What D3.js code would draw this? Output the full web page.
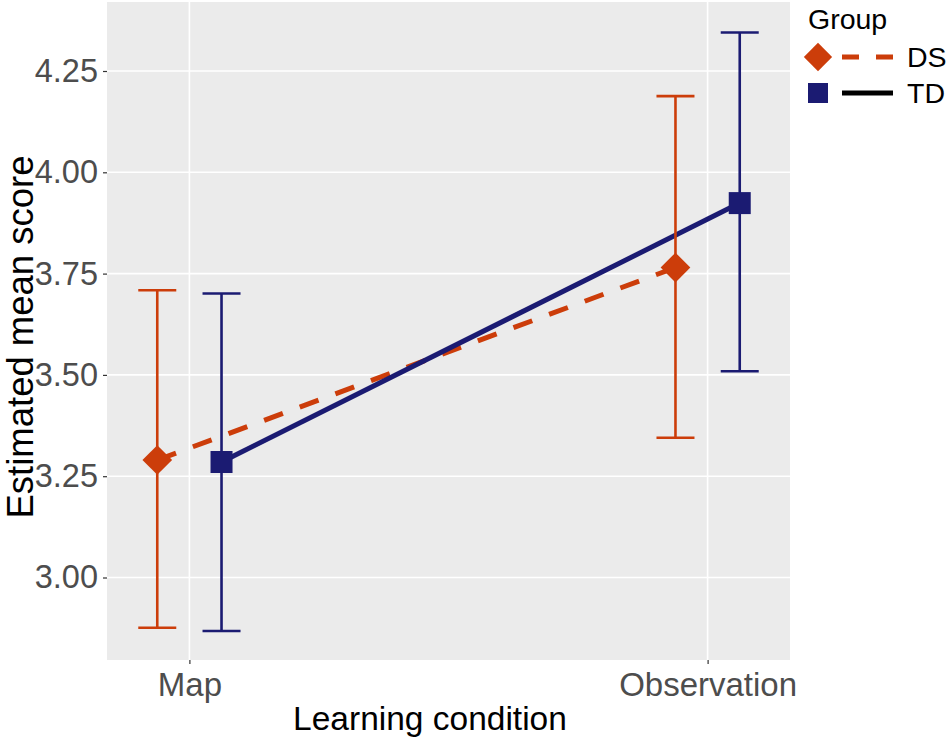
<!DOCTYPE html>
<html>
<head>
<meta charset="utf-8">
<script src="https://cdn.jsdelivr.net/npm/d3@7/dist/d3.min.js"></script>
<style>
  html, body { margin: 0; padding: 0; background: #ffffff; }
  svg { display: block; font-family: "Liberation Sans", Arial, sans-serif; }
</style>
</head>
<body>
<svg id="chart" width="950" height="740"></svg>
<script>
// ---- data ----
const categories = ["Map", "Observation"];
const groups = ["DS", "TD"];
const dsMean  = [3.290, 3.765];
const dsLower = [2.876, 3.345];
const dsUpper = [3.709, 4.188];
const tdMean  = [3.285, 3.924];
const tdLower = [2.868, 3.509];
const tdUpper = [3.701, 4.345];
const yTicks = [3.00, 3.25, 3.50, 3.75, 4.00, 4.25];
const groupColors = ["#CC3D0A", "#1B1B72"];
const legendLineColors = ["#CC3D0A", "#000000"];

// ---- layout ----
const svg = d3.select("#chart");
const panel = { left: 107, right: 790, top: 2, bottom: 660 };

const x = d3.scalePoint().domain(categories).range([panel.left, panel.right]).padding(0.159);
const y = d3.scaleLinear().domain([2.7964, 4.4203]).range([panel.bottom, panel.top]);
const dodge = d3.scaleOrdinal().domain(groups).range([-x.step() * 0.062, x.step() * 0.062]);

const series = [
  { group: "DS", mean: dsMean, lower: dsLower, upper: dsUpper, color: groupColors[0], dash: "20,18", shape: "diamond" },
  { group: "TD", mean: tdMean, lower: tdLower, upper: tdUpper, color: groupColors[1], dash: null, shape: "square" }
];

// panel background
svg.append("rect")
  .attr("x", panel.left).attr("y", panel.top)
  .attr("width", panel.right - panel.left).attr("height", panel.bottom - panel.top)
  .attr("fill", "#EBEBEB");

// gridlines
svg.append("g").selectAll("line").data(yTicks).join("line")
  .attr("x1", panel.left).attr("x2", panel.right)
  .attr("y1", d => y(d)).attr("y2", d => y(d))
  .attr("stroke", "#ffffff").attr("stroke-width", 1.6);
svg.append("g").selectAll("line").data(categories).join("line")
  .attr("x1", d => x(d)).attr("x2", d => x(d))
  .attr("y1", panel.top).attr("y2", panel.bottom)
  .attr("stroke", "#ffffff").attr("stroke-width", 1.6);

// axes
const yAxis = d3.axisLeft(y).tickValues(yTicks).tickFormat(d3.format(".2f")).tickSize(4).tickPadding(5);
const gy = svg.append("g").attr("transform", `translate(${panel.left},0)`).call(yAxis);
gy.select(".domain").remove();
gy.selectAll(".tick line").attr("stroke", "#333333").attr("stroke-width", 1.2);
gy.selectAll(".tick text").attr("fill", "#4D4D4D").attr("font-size", 32.5)
  .attr("font-family", "Liberation Sans, Arial, sans-serif");

const xAxis = d3.axisBottom(x).tickSize(4).tickPadding(4);
const gx = svg.append("g").attr("transform", `translate(0,${panel.bottom})`).call(xAxis);
gx.select(".domain").remove();
gx.selectAll(".tick line").attr("stroke", "#333333").attr("stroke-width", 1.2);
gx.selectAll(".tick text").attr("fill", "#4D4D4D").attr("font-size", 33)
  .attr("font-family", "Liberation Sans, Arial, sans-serif")
  .attr("dy", null).attr("y", 36);

// axis titles
svg.append("text")
  .attr("x", 430).attr("y", 730)
  .attr("text-anchor", "middle")
  .attr("font-size", 33.5).attr("fill", "#000")
  .text("Learning condition");
svg.append("text")
  .attr("transform", "translate(33,337) rotate(-90)")
  .attr("text-anchor", "middle")
  .attr("font-size", 36.5).attr("fill", "#000")
  .text("Estimated mean score");

// lines
const plot = svg.append("g");
series.forEach(s => {
  const pts = categories.map((c, i) => [x(c) + dodge(s.group), y(s.mean[i])]);
  plot.append("path")
    .attr("d", d3.line()(pts))
    .attr("fill", "none")
    .attr("stroke", s.color)
    .attr("stroke-width", 5)
    .attr("stroke-dasharray", s.dash);
});

// error bars
const capHalf = 19;
series.forEach(s => {
  const g = plot.append("g").attr("stroke", s.color).attr("stroke-width", 2.6).attr("fill", "none");
  categories.forEach((c, i) => {
    const cx = x(c) + dodge(s.group);
    g.append("line").attr("x1", cx).attr("x2", cx).attr("y1", y(s.lower[i])).attr("y2", y(s.upper[i]));
    g.append("line").attr("x1", cx - capHalf).attr("x2", cx + capHalf).attr("y1", y(s.lower[i])).attr("y2", y(s.lower[i]));
    g.append("line").attr("x1", cx - capHalf).attr("x2", cx + capHalf).attr("y1", y(s.upper[i])).attr("y2", y(s.upper[i]));
  });
});

// points
series.forEach(s => {
  categories.forEach((c, i) => {
    const cx = x(c) + dodge(s.group), cy = y(s.mean[i]);
    if (s.shape === "diamond") {
      plot.append("path").attr("d", d3.symbol().type(d3.symbolSquare).size(21 * 21)())
        .attr("transform", `translate(${cx},${cy}) rotate(45)`)
        .attr("fill", s.color);
    } else {
      plot.append("path").attr("d", d3.symbol().type(d3.symbolSquare).size(22 * 22)())
        .attr("transform", `translate(${cx},${cy})`)
        .attr("fill", s.color);
    }
  });
});

// legend
const leg = svg.append("g");
leg.append("text").attr("x", 808).attr("y", 29).attr("font-size", 28.5).attr("fill", "#000").text("Group");
const legRows = [
  { label: groups[0], y: 57, color: groupColors[0], line: legendLineColors[0], dash: "17,17", shape: "diamond" },
  { label: groups[1], y: 93, color: groupColors[1], line: legendLineColors[1], dash: null, shape: "square" }
];
legRows.forEach(r => {
  leg.append("line").attr("x1", 842).attr("x2", 893).attr("y1", r.y).attr("y2", r.y)
    .attr("stroke", r.line).attr("stroke-width", 5).attr("stroke-dasharray", r.dash);
  if (r.shape === "diamond") {
    leg.append("path").attr("d", d3.symbol().type(d3.symbolSquare).size(20 * 20)())
      .attr("transform", `translate(818,${r.y}) rotate(45)`).attr("fill", r.color);
  } else {
    leg.append("path").attr("d", d3.symbol().type(d3.symbolSquare).size(20 * 20)())
      .attr("transform", `translate(818,${r.y})`).attr("fill", r.color);
  }
  leg.append("text").attr("x", 907).attr("y", r.y + 10).attr("font-size", 28.5).attr("fill", "#000").text(r.label);
});
</script>
</body>
</html>
